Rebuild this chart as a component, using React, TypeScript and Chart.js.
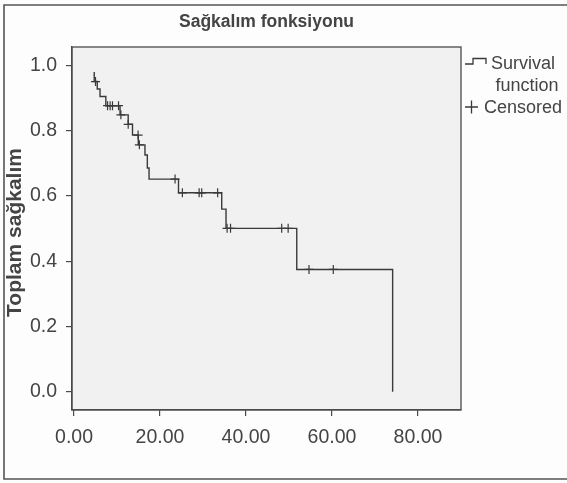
import React, { useEffect, useRef } from "react";
import { Chart, registerables } from "chart.js";

Chart.register(...registerables);

// Kaplan-Meier step curve (time, survival)
const eventTimes = [4.7, 4.7, 5.4, 6.05, 7.4, 10.7, 12.6, 13.6, 14.95, 16.5, 17.05, 17.45, 24.3, 34.35, 35.35, 51.8, 74.1];
const survival = [0.98, 0.951, 0.928, 0.905, 0.877, 0.849, 0.82, 0.787, 0.757, 0.726, 0.686, 0.652, 0.61, 0.56, 0.501, 0.375, 0.0];

// Censored observations
const censorTimes = [5.0, 7.8, 8.4, 8.95, 10.35, 10.9, 12.6, 14.9, 15.2, 23.5, 25.2, 29.1, 29.7, 33.4, 35.6, 36.4, 48.3, 49.8, 54.65, 60.3];
const censorLevels = [0.951, 0.877, 0.877, 0.877, 0.877, 0.849, 0.82, 0.787, 0.757, 0.652, 0.61, 0.61, 0.61, 0.61, 0.501, 0.501, 0.501, 0.501, 0.375, 0.375];

const xTicks = [0, 20, 40, 60, 80];
const yTicks = [0, 0.2, 0.4, 0.6, 0.8, 1.0];

const chartTitle = "Sağkalım fonksiyonu";
const yTitle = "Toplam sağkalım";
const legendSurvival = ["Survival", "function"];
const legendCensored = "Censored";

const FONT = "'Liberation Sans', Arial, sans-serif";
const INK = "#3a3a3a";
const TEXT = "#444444";

const decorPlugin = {
  id: "decor",
  beforeDraw(chart: any) {
    const { ctx, chartArea: a } = chart;
    ctx.save();
    ctx.fillStyle = "#fdfdfd";
    ctx.fillRect(0, 0, chart.width, chart.height);
    ctx.fillStyle = "#f1f1f1";
    ctx.fillRect(a.left, a.top, a.right - a.left, a.bottom - a.top);
    ctx.restore();
  },
  afterDraw(chart: any) {
    const { ctx, chartArea: a } = chart;
    ctx.save();
    // plot frame
    ctx.strokeStyle = "#4a4a4a";
    ctx.lineWidth = 1.3;
    ctx.strokeRect(a.left, a.top, a.right - a.left, a.bottom - a.top);
    // outer frame (open on the right)
    ctx.strokeStyle = "#555";
    ctx.lineWidth = 1.6;
    ctx.beginPath();
    ctx.moveTo(chart.width + 2, 5);
    ctx.lineTo(4, 5);
    ctx.lineTo(4, 479);
    ctx.lineTo(chart.width + 2, 479);
    ctx.stroke();
    // title
    ctx.fillStyle = TEXT;
    ctx.font = `bold 17.5px ${FONT}`;
    ctx.textAlign = "center";
    ctx.textBaseline = "middle";
    ctx.fillText(chartTitle, (a.left + a.right) / 2, 22);
    // y title
    ctx.save();
    ctx.translate(15, (a.top + a.bottom) / 2 + 4);
    ctx.rotate(-Math.PI / 2);
    ctx.font = `bold 21px ${FONT}`;
    ctx.fillText(yTitle, 0, 0);
    ctx.restore();
    // legend
    ctx.strokeStyle = INK;
    ctx.lineWidth = 1.3;
    ctx.beginPath();
    ctx.moveTo(465, 64);
    ctx.lineTo(473, 64);
    ctx.lineTo(473, 58.5);
    ctx.lineTo(486, 58.5);
    ctx.lineTo(486, 64);
    ctx.stroke();
    ctx.font = `18px ${FONT}`;
    ctx.textAlign = "left";
    ctx.fillText(legendSurvival[0], 491, 64);
    ctx.textAlign = "center";
    ctx.fillText(legendSurvival[1], 527, 86);
    ctx.beginPath();
    ctx.moveTo(465, 107);
    ctx.lineTo(478, 107);
    ctx.moveTo(471.5, 100.5);
    ctx.lineTo(471.5, 113.5);
    ctx.stroke();
    ctx.textAlign = "left";
    ctx.fillText(legendCensored, 484, 108);
    ctx.restore();
  },
};

export default function App() {
  const ref = useRef<HTMLCanvasElement | null>(null);
  useEffect(() => {
    document.body.style.margin = "0";
    const canvas = ref.current!;
    const stepData = eventTimes.map((t, i) => ({ x: t, y: survival[i] }));
    const censorData = censorTimes.map((t, i) => ({ x: t, y: censorLevels[i] }));
    const axisCommon = {
      type: "linear" as const,
      grid: { display: true, drawOnChartArea: false, drawTicks: true, tickLength: 6, color: "#4a4a4a", lineWidth: 1.2 },
      border: { display: true, color: "#4a4a4a", width: 1.3 },
    };
    const chart = new Chart(canvas, {
      type: "scatter",
      data: {
        datasets: [
          {
            type: "line",
            data: stepData,
            stepped: "before",
            showLine: true,
            borderColor: INK,
            borderWidth: 1.4,
            pointRadius: 0,
            fill: false,
          } as any,
          {
            type: "scatter",
            data: censorData,
            pointStyle: "cross",
            pointRadius: 4.5,
            pointBorderColor: INK,
            pointBorderWidth: 1.2,
            pointBackgroundColor: INK,
          } as any,
        ],
      },
      options: {
        responsive: false,
        animation: false,
        events: [],
        layout: { padding: { left: 0, right: 106, top: 47, bottom: 0 } },
        plugins: { legend: { display: false }, tooltip: { enabled: false }, title: { display: false } },
        scales: {
          x: {
            ...axisCommon,
            min: -0.47,
            max: 90,
            afterBuildTicks: (s: any) => { s.ticks = xTicks.map((v) => ({ value: v })); },
            afterFit: (s: any) => { s.height = 73; },
            ticks: {
              color: TEXT,
              font: { size: 19.5, family: FONT },
              padding: 10,
              maxRotation: 0,
              autoSkip: false,
              callback: (v: any) => Number(v).toFixed(2),
            },
          },
          y: {
            ...axisCommon,
            min: -0.056,
            max: 1.057,
            afterBuildTicks: (s: any) => { s.ticks = yTicks.map((v) => ({ value: v })); },
            afterFit: (s: any) => { s.width = 72; },
            ticks: {
              color: TEXT,
              font: { size: 19.5, family: FONT },
              padding: 9,
              autoSkip: false,
              callback: (v: any) => Number(v).toFixed(1),
            },
          },
        },
      } as any,
      plugins: [decorPlugin],
    });
    return () => chart.destroy();
  }, []);
  return (
    <div style={{ width: 567, height: 483 }}>
      <canvas ref={ref} width={567} height={483} style={{ display: "block" }} />
    </div>
  );
}
